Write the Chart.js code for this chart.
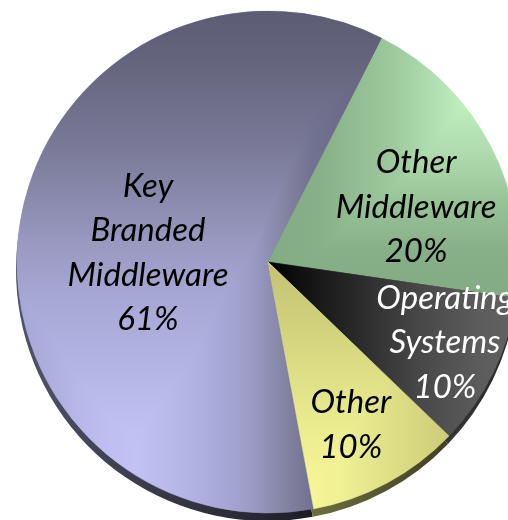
<!DOCTYPE html>
<html><head><meta charset="utf-8">
<script src="https://cdn.jsdelivr.net/npm/chart.js@4"></script>
<style>
html,body{margin:0;padding:0;background:#fff;overflow:hidden;width:508px;height:520px;}
#wrap{position:absolute;left:0;top:0;width:536px;height:524px;}
</style></head><body>
<div id="wrap"><canvas id="c" width="536" height="524"></canvas></div>
<script>
// ---- data ----
const categories = ['Key Branded Middleware', 'Other Middleware', 'Operating Systems', 'Other'];
const values = [61, 20, 10, 10];
const labelLines = [['Key', 'Branded', 'Middleware'], ['Other', 'Middleware'], ['Operating', 'Systems'], ['Other']];

// ---- style ----
const ROTATION = 169.5;
const RADIUS = 251;
const FONT = 'italic 33px Lato, "DejaVu Sans", sans-serif';
const LINE_H = 0.177;      // fraction of radius
const labelColors = ['#000', '#000', '#fff', '#000'];
const labelPos = [[-0.478, 0.006], [0.59, -0.177], [0.705, 0.363], [0.33, 0.691]];
// horizontal shading (positions along the pie's width, left edge -> right edge)
const hStops = [
  [[0, '#a6a6d4'], [0.165, '#bcbcee'], [0.235, '#c2c2f4'], [0.365, '#b0b0e0'], [0.464, '#9c9cc8'], [0.544, '#80809e'], [0.584, '#727292'], [0.723, '#64647e'], [1, '#60607a']],
  [[0.5, '#84ac84'], [0.603, '#88b088'], [0.743, '#9cc89c'], [0.843, '#b4e2b4'], [0.902, '#c2f2c2'], [1, '#c4f4c4']],
  [[0.5, '#000000'], [0.564, '#101010'], [0.663, '#262626'], [0.803, '#484848'], [0.922, '#5c5c5c'], [1, '#626262']],
  [[0.5, '#f8f898'], [0.564, '#f8f898'], [0.643, '#f0f094'], [0.723, '#e2e28a'], [0.803, '#d6d680'], [0.863, '#cccc7a'], [1, '#c8c876']]
];
// vertical shading (positions along the pie's height, top -> bottom), combined by per-channel minimum
const vStops = [
  [[0, '#5c5c74'], [0.098, '#64647c'], [0.277, '#7a7a98'], [0.456, '#9898c0'], [0.576, '#a8a8d6'], [0.835, '#c0c0f2'], [0.974, '#c6c6f8'], [1, '#c6c6f8']],
  [[0, '#c4f4c4'], [0.058, '#c4f4c4'], [0.177, '#c0f0c0'], [0.277, '#b0dcb0'], [0.376, '#98c498'], [0.476, '#88b088'], [0.556, '#84ac84'], [1, '#84ac84']],
  null,
  [[0, '#c4c474'], [0.516, '#c4c474'], [0.616, '#d0d07c'], [0.735, '#e0e088'], [0.855, '#eeee92'], [0.974, '#f8f898'], [1, '#f8f898']]
];
const sideStyle = [
  {a: -1.0, b: 0.2, c0: '#52526a', c1: '#1c1c24'},
  {a: 0.3, b: 1.0, c0: '#6a8a6a', c1: '#3a5a3a'},
  {a: 0.6, b: 1.0, c0: '#3c3c3c', c1: '#262626'},
  {a: 0.1, b: 0.8, c0: '#747444', c1: '#38381e'}
];
const SIDE_DX = -1, SIDE_DY = 8;

function faceColor(ctx) {
  const chart = ctx.chart, i = ctx.dataIndex, area = chart.chartArea;
  if (!area) return '#888';
  const cx = (area.left + area.right) / 2;
  const g = chart.ctx.createLinearGradient(cx - RADIUS, 0, cx + RADIUS, 0);
  hStops[i].forEach(([f, col]) => g.addColorStop(f, col));
  return g;
}

function wedge(c, p, dx, dy) {
  c.beginPath();
  c.moveTo(p.x + dx, p.y + dy);
  c.arc(p.x + dx, p.y + dy, p.outerRadius, p.startAngle, p.endAngle);
  c.closePath();
}

const pie3d = {
  id: 'pie3d',
  beforeDatasetsDraw(chart) {
    const c = chart.ctx;
    const meta = chart.getDatasetMeta(0);
    c.save();
    meta.data.forEach((arc, i) => {
      const p = arc.getProps(['x', 'y', 'startAngle', 'endAngle', 'outerRadius'], true);
      const st = sideStyle[i];
      const g = c.createLinearGradient(p.x + st.a * p.outerRadius, 0, p.x + st.b * p.outerRadius, 0);
      g.addColorStop(0, st.c0); g.addColorStop(1, st.c1);
      c.fillStyle = g;
      wedge(c, p, SIDE_DX, SIDE_DY);
      c.fill();
    });
    c.restore();
  },
  afterDatasetsDraw(chart) {
    const c = chart.ctx;
    const meta = chart.getDatasetMeta(0);
    meta.data.forEach((arc, i) => {
      if (!vStops[i]) return;
      const p = arc.getProps(['x', 'y', 'startAngle', 'endAngle', 'outerRadius'], true);
      c.save();
      wedge(c, p, 0, 0);
      c.clip();
      c.globalCompositeOperation = 'darken';
      const g = c.createLinearGradient(0, p.y - p.outerRadius, 0, p.y + p.outerRadius);
      vStops[i].forEach(([f, col]) => g.addColorStop(f, col));
      c.fillStyle = g;
      c.fillRect(p.x - p.outerRadius - 2, p.y - p.outerRadius - 2, 2 * p.outerRadius + 4, 2 * p.outerRadius + 4);
      c.restore();
    });

    const a0 = meta.data[0].getProps(['x', 'y', 'outerRadius'], true);
    const cx = a0.x, cy = a0.y, R = a0.outerRadius;
    c.save();
    c.font = FONT;
    c.textAlign = 'center';
    c.textBaseline = 'alphabetic';
    meta.data.forEach((arc, i) => {
      const lines = labelLines[i].concat([values[i] + '%']);
      const bx = cx + labelPos[i][0] * R, by = cy + labelPos[i][1] * R;
      const lh = LINE_H * R;
      c.fillStyle = labelColors[i];
      lines.forEach((t, k) => {
        c.fillText(t, bx, by + (k - (lines.length - 1) / 2) * lh);
      });
    });
    c.restore();
  }
};

new Chart(document.getElementById('c'), {
  type: 'pie',
  data: {
    labels: categories,
    datasets: [{
      data: values,
      backgroundColor: faceColor,
      borderColor: faceColor,
      borderWidth: 0.6,
      radius: RADIUS
    }]
  },
  options: {
    responsive: false,
    animation: false,
    rotation: ROTATION,
    layout: {padding: 0},
    plugins: {legend: {display: false}, tooltip: {enabled: false}}
  },
  plugins: [pie3d]
});
</script>
</body></html>
